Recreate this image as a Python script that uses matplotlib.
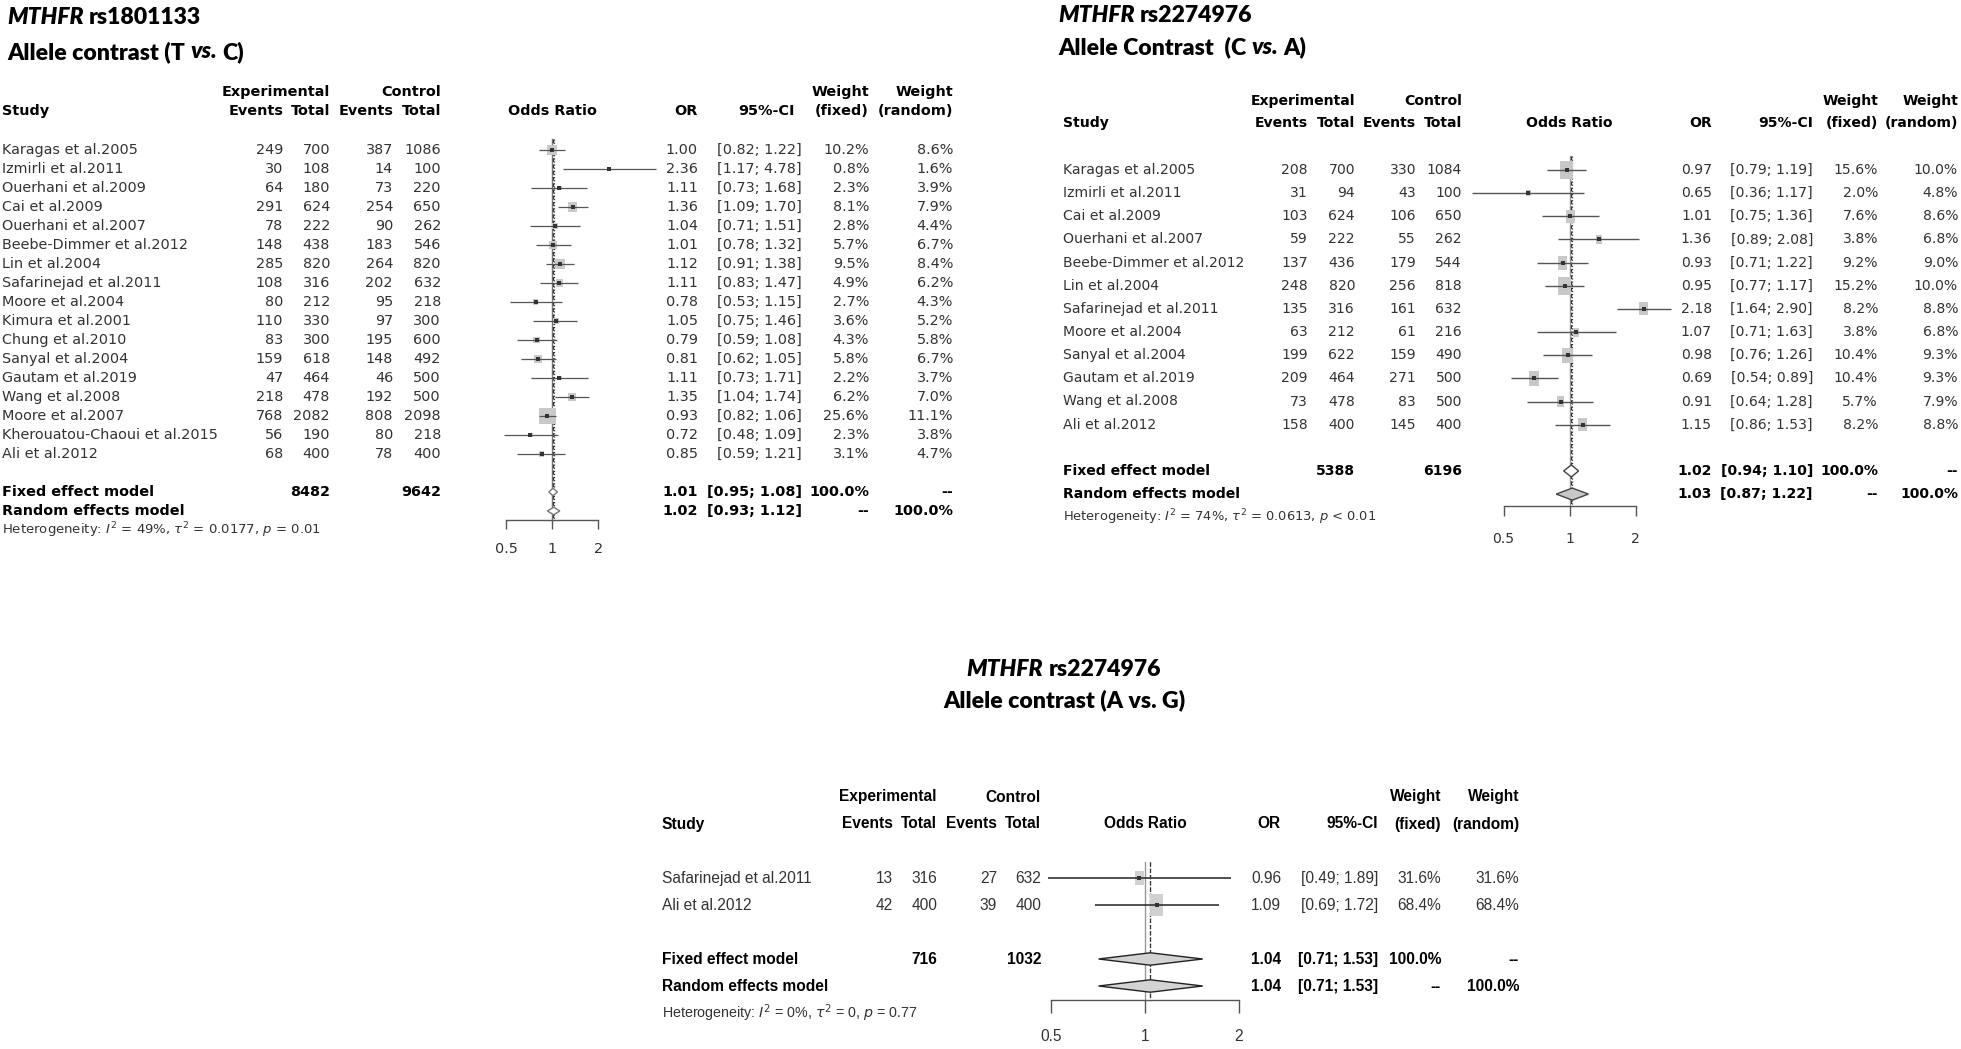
import numpy as np
import matplotlib
matplotlib.use('Agg')
import matplotlib.pyplot as plt
import matplotlib.transforms as mtransforms
from matplotlib import font_manager
from matplotlib.ticker import NullLocator

W, H = 1961, 1049

# ---- rs1801133, T vs C ----
studies1 = ["Karagas et al.2005", "Izmirli et al.2011", "Ouerhani et al.2009", "Cai et al.2009",
            "Ouerhani et al.2007", "Beebe-Dimmer et al.2012", "Lin et al.2004", "Safarinejad et al.2011",
            "Moore et al.2004", "Kimura et al.2001", "Chung et al.2010", "Sanyal et al.2004",
            "Gautam et al.2019", "Wang et al.2008", "Moore et al.2007", "Kherouatou-Chaoui et al.2015",
            "Ali et al.2012"]
exp_ev1 = [249, 30, 64, 291, 78, 148, 285, 108, 80, 110, 83, 159, 47, 218, 768, 56, 68]
exp_tot1 = [700, 108, 180, 624, 222, 438, 820, 316, 212, 330, 300, 618, 464, 478, 2082, 190, 400]
ctl_ev1 = [387, 14, 73, 254, 90, 183, 264, 202, 95, 97, 195, 148, 46, 192, 808, 80, 78]
ctl_tot1 = [1086, 100, 220, 650, 262, 546, 820, 632, 218, 300, 600, 492, 500, 500, 2098, 218, 400]
or1 = [1.00, 2.36, 1.11, 1.36, 1.04, 1.01, 1.12, 1.11, 0.78, 1.05, 0.79, 0.81, 1.11, 1.35, 0.93, 0.72, 0.85]
lo1 = [0.82, 1.17, 0.73, 1.09, 0.71, 0.78, 0.91, 0.83, 0.53, 0.75, 0.59, 0.62, 0.73, 1.04, 0.82, 0.48, 0.59]
hi1 = [1.22, 4.78, 1.68, 1.70, 1.51, 1.32, 1.38, 1.47, 1.15, 1.46, 1.08, 1.05, 1.71, 1.74, 1.06, 1.09, 1.21]
wf1 = [10.2, 0.8, 2.3, 8.1, 2.8, 5.7, 9.5, 4.9, 2.7, 3.6, 4.3, 5.8, 2.2, 6.2, 25.6, 2.3, 3.1]
wr1 = [8.6, 1.6, 3.9, 7.9, 4.4, 6.7, 8.4, 6.2, 4.3, 5.2, 5.8, 6.7, 3.7, 7.0, 11.1, 3.8, 4.7]
fixed1 = (1.01, 0.95, 1.08)
random1 = (1.02, 0.93, 1.12)
totals1 = (8482, 9642)
het1 = ("49%", "0.0177", "= 0.01")

# ---- rs2274976, C vs A ----
studies2 = ["Karagas et al.2005", "Izmirli et al.2011", "Cai et al.2009", "Ouerhani et al.2007",
            "Beebe-Dimmer et al.2012", "Lin et al.2004", "Safarinejad et al.2011", "Moore et al.2004",
            "Sanyal et al.2004", "Gautam et al.2019", "Wang et al.2008", "Ali et al.2012"]
exp_ev2 = [208, 31, 103, 59, 137, 248, 135, 63, 199, 209, 73, 158]
exp_tot2 = [700, 94, 624, 222, 436, 820, 316, 212, 622, 464, 478, 400]
ctl_ev2 = [330, 43, 106, 55, 179, 256, 161, 61, 159, 271, 83, 145]
ctl_tot2 = [1084, 100, 650, 262, 544, 818, 632, 216, 490, 500, 500, 400]
or2 = [0.97, 0.65, 1.01, 1.36, 0.93, 0.95, 2.18, 1.07, 0.98, 0.69, 0.91, 1.15]
lo2 = [0.79, 0.36, 0.75, 0.89, 0.71, 0.77, 1.64, 0.71, 0.76, 0.54, 0.64, 0.86]
hi2 = [1.19, 1.17, 1.36, 2.08, 1.22, 1.17, 2.90, 1.63, 1.26, 0.89, 1.28, 1.53]
wf2 = [15.6, 2.0, 7.6, 3.8, 9.2, 15.2, 8.2, 3.8, 10.4, 10.4, 5.7, 8.2]
wr2 = [10.0, 4.8, 8.6, 6.8, 9.0, 10.0, 8.8, 6.8, 9.3, 9.3, 7.9, 8.8]
fixed2 = (1.02, 0.94, 1.10)
random2 = (1.03, 0.87, 1.22)
totals2 = (5388, 6196)
het2 = ("74%", "0.0613", "< 0.01")

# ---- rs2274976, A vs G ----
studies3 = ["Safarinejad et al.2011", "Ali et al.2012"]
exp_ev3 = [13, 42]
exp_tot3 = [316, 400]
ctl_ev3 = [27, 39]
ctl_tot3 = [632, 400]
or3 = [0.96, 1.09]
lo3 = [0.49, 0.69]
hi3 = [1.89, 1.72]
wf3 = [31.6, 68.4]
wr3 = [31.6, 68.4]
fixed3 = (1.04, 0.71, 1.53)
random3 = (1.04, 0.71, 1.53)
totals3 = (716, 1032)
het3 = ("0%", "0", "= 0.77")

TEXT = '#333333'
TITLE_FONT = 'Lato'

have = {f.name for f in font_manager.fontManager.ttflist}
if 'Liberation Sans Narrow' in have:
    narrow, nsize, nhet = 'Liberation Sans Narrow', 13.6, 12.4
else:
    narrow, nsize, nhet = 'Liberation Sans', 11.2, 10.3

lay1 = dict(font='DejaVu Sans', size=10.4, het_size=9.5, study_x=2, e_ev=283, e_tot=330, c_ev=393,
            c_tot=441, or_x=698, ci_x=802, ci_head=795, wf_x=869, wr_x=953, head1=92, head2=111,
            row0=150, dy=19, one_x=552.3, doubling=46, ax_left=460, ax_right=680,
            sq=2.3, aspect=1.0, sq_col='#c9c9c9', ci_col='#555555', ci_lw=0.9,
            fe_fill='white', re_fill='white', dia_edge='#777777', dia_h=0.2,
            ref_col='#777777', tick_len=6.5, tick_pad=9)
lay2 = dict(font='DejaVu Sans', size=10.1, het_size=9.4, study_x=1063, e_ev=1308, e_tot=1355, c_ev=1416,
            c_tot=1462, or_x=1712, ci_x=1813, ci_head=1813, wf_x=1878, wr_x=1958, head1=101, head2=123,
            row0=170, dy=23.15, one_x=1569.5, doubling=66, ax_left=1460, ax_right=1690,
            sq=3.3, aspect=1.45, sq_col='#c8c8c8', ci_col='#555555', ci_lw=1.0,
            fe_fill='white', re_fill='#c8c8c8', dia_edge='#444444', dia_h=0.26,
            ref_col='#999999', tick_len=7.2, tick_pad=11.5)
lay3 = dict(font=narrow, size=nsize, het_size=nhet, study_x=662, e_ev=893, e_tot=937, c_ev=997,
            c_tot=1041, or_x=1281, ci_x=1378, ci_head=1378, wf_x=1441, wr_x=1519, head1=797, head2=824,
            row0=878, dy=27, one_x=1145, doubling=94, ax_left=1040, ax_right=1250,
            sq=1.91, aspect=1.7, sq_col='#d0d0d0', ci_col='#333333', ci_lw=1.2,
            fe_fill='#d3d3d3', re_fill='#d3d3d3', dia_edge='#222222', dia_h=0.23,
            ref_col='#999999', tick_len=9.4, tick_pad=12)

fig = plt.figure(figsize=(W / 100, H / 100), dpi=100)
px = mtransforms.Affine2D().scale(1 / W, -1 / H).translate(0, 1) + fig.transFigure
renderer = fig.canvas.get_renderer()


def txt(x, y, s, lay, bold=False, ha='right', trans=None, size=None):
    return fig.text(x, y, s, transform=trans or px, ha=ha, va='center', family=lay['font'],
                    fontsize=size or lay['size'], weight='bold' if bold else 'normal',
                    color='black' if bold else TEXT)


def rich(x, y, parts, size, ha='left'):
    # bold title pieces with mixed italic, placed one after another
    tmp = [fig.text(0, 0, s, fontsize=size, family=TITLE_FONT, weight='heavy') for s in ('a a', 'aa')]
    gap = tmp[0].get_window_extent(renderer).width - tmp[1].get_window_extent(renderer).width
    for t in tmp:
        t.remove()
    arts = [fig.text(0, y, s, transform=px, fontsize=size, family=TITLE_FONT, weight='heavy',
                     style=st, va='center', ha='left') for s, st in parts]
    widths = [a.get_window_extent(renderer).width for a in arts]
    total = sum(widths) + gap * (len(arts) - 1)
    start = x - total / 2 if ha == 'center' else x
    for a, w in zip(arts, widths):
        a.set_x(start)
        start += w + gap


def forest(studies, e_ev, e_tot, c_ev, c_tot, ors, lo, hi, wf, wr, fixed, rand, totals, het, lay):
    n = len(studies)
    r_fix, r_ran, r_het, r_axis = n + 1, n + 2, n + 3, n + 2.5
    top = lay['row0'] - 2 * lay['dy']
    bot = lay['row0'] + (n + 5) * lay['dy']
    left, right = lay['ax_left'], lay['ax_right']
    ax = fig.add_axes([left / W, 1 - bot / H, (right - left) / W, (bot - top) / H])
    ax.set_xscale('log', base=2)
    c, k = lay['one_x'], lay['doubling']
    ax.set_xlim(2 ** ((left - c) / k), 2 ** ((right - c) / k))
    ax.set_ylim((bot - lay['row0']) / lay['dy'], (top - lay['row0']) / lay['dy'])
    ax.patch.set_visible(False)

    rows = np.arange(n)
    # reference and summary lines
    ax.plot([1, 1], [-0.6, r_axis], color=lay['ref_col'], lw=1.0, zorder=1, clip_on=False)
    ax.plot([fixed[0]] * 2, [-0.6, r_axis], color='#333333', lw=0.9, ls=(0, (3, 2)), zorder=1)
    ax.plot([rand[0]] * 2, [-0.6, r_axis], color='#333333', lw=0.9, ls=(0, (1, 1.5)), zorder=1)

    a = 1.0 / lay['aspect']
    box = [(-a, -1), (a, -1), (a, 1), (-a, 1), (-a, -1)]
    ax.scatter(ors, rows, s=(lay['sq'] * np.sqrt(wf)) ** 2, marker=box, color=lay['sq_col'],
               linewidths=0, zorder=2, clip_on=False)
    ax.hlines(rows, lo, hi, color=lay['ci_col'], lw=lay['ci_lw'], zorder=3, clip_on=False)
    ax.scatter(ors, rows, s=5, marker='s', color='#333333', linewidths=0, zorder=4, clip_on=False)

    h = lay['dia_h']
    for (est, l, u), r, fill in [(fixed, r_fix, lay['fe_fill']), (rand, r_ran, lay['re_fill'])]:
        ax.fill([l, est, u, est], [r, r - h, r, r + h], facecolor=fill, edgecolor=lay['dia_edge'],
                lw=1.0, zorder=5, clip_on=False)

    for s in ('top', 'left', 'right'):
        ax.spines[s].set_visible(False)
    sp = ax.spines['bottom']
    sp.set_position(('data', r_axis))
    sp.set_bounds(0.5, 2)
    sp.set_color('#555555')
    sp.set_linewidth(1.0)
    ax.set_xticks([0.5, 1, 2])
    ax.set_xticklabels(['0.5', '1', '2'])
    ax.xaxis.set_minor_locator(NullLocator())
    ax.set_yticks([])
    ax.tick_params(axis='x', direction='out', length=lay['tick_len'], width=1.0, color='#555555',
                   pad=lay['tick_pad'], labelsize=lay['size'], labelcolor=TEXT)
    for t in ax.get_xticklabels():
        t.set_family(lay['font'])

    # headers
    b = dict(bold=True)
    txt(lay['study_x'], lay['head2'], 'Study', lay, ha='left', **b)
    txt(lay['e_tot'], lay['head1'], 'Experimental', lay, **b)
    txt(lay['e_ev'], lay['head2'], 'Events', lay, **b)
    txt(lay['e_tot'], lay['head2'], 'Total', lay, **b)
    txt(lay['c_tot'], lay['head1'], 'Control', lay, **b)
    txt(lay['c_ev'], lay['head2'], 'Events', lay, **b)
    txt(lay['c_tot'], lay['head2'], 'Total', lay, **b)
    txt(lay['one_x'], lay['head2'], 'Odds Ratio', lay, ha='center', **b)
    txt(lay['or_x'], lay['head2'], 'OR', lay, **b)
    txt(lay['ci_head'], lay['head2'], '95%-CI', lay, **b)
    txt(lay['wf_x'], lay['head1'], 'Weight', lay, **b)
    txt(lay['wf_x'], lay['head2'], '(fixed)', lay, **b)
    txt(lay['wr_x'], lay['head1'], 'Weight', lay, **b)
    txt(lay['wr_x'], lay['head2'], '(random)', lay, **b)

    rt = mtransforms.blended_transform_factory(px, ax.transData)
    for i in range(n):
        txt(lay['study_x'], i, studies[i], lay, ha='left', trans=rt)
        txt(lay['e_ev'], i, str(e_ev[i]), lay, trans=rt)
        txt(lay['e_tot'], i, str(e_tot[i]), lay, trans=rt)
        txt(lay['c_ev'], i, str(c_ev[i]), lay, trans=rt)
        txt(lay['c_tot'], i, str(c_tot[i]), lay, trans=rt)
        txt(lay['or_x'], i, f'{ors[i]:.2f}', lay, trans=rt)
        txt(lay['ci_x'], i, f'[{lo[i]:.2f}; {hi[i]:.2f}]', lay, trans=rt)
        txt(lay['wf_x'], i, f'{wf[i]:.1f}%', lay, trans=rt)
        txt(lay['wr_x'], i, f'{wr[i]:.1f}%', lay, trans=rt)

    txt(lay['study_x'], r_fix, 'Fixed effect model', lay, ha='left', trans=rt, **b)
    txt(lay['e_tot'], r_fix, str(totals[0]), lay, trans=rt, **b)
    txt(lay['c_tot'], r_fix, str(totals[1]), lay, trans=rt, **b)
    txt(lay['study_x'], r_ran, 'Random effects model', lay, ha='left', trans=rt, **b)
    for (est, l, u), r, wfs, wrs in [(fixed, r_fix, '100.0%', '--'), (rand, r_ran, '--', '100.0%')]:
        txt(lay['or_x'], r, f'{est:.2f}', lay, trans=rt, **b)
        txt(lay['ci_x'], r, f'[{l:.2f}; {u:.2f}]', lay, trans=rt, **b)
        txt(lay['wf_x'], r, wfs, lay, trans=rt, **b)
        txt(lay['wr_x'], r, wrs, lay, trans=rt, **b)
    txt(lay['study_x'], r_het,
        r'Heterogeneity: $I^2$ = ' + het[0] + r', $\tau^2$ = ' + het[1] + r', $p$ ' + het[2],
        lay, ha='left', trans=rt, size=lay['het_size'])
    return ax


forest(studies1, exp_ev1, exp_tot1, ctl_ev1, ctl_tot1, or1, lo1, hi1, wf1, wr1,
       fixed1, random1, totals1, het1, lay1)
forest(studies2, exp_ev2, exp_tot2, ctl_ev2, ctl_tot2, or2, lo2, hi2, wf2, wr2,
       fixed2, random2, totals2, het2, lay2)
forest(studies3, exp_ev3, exp_tot3, ctl_ev3, ctl_tot3, or3, lo3, hi3, wf3, wr3,
       fixed3, random3, totals3, het3, lay3)

rich(7, 18, [('MTHFR', 'italic'), ('rs1801133', 'normal')], 16.6)
rich(7, 52, [('Allele contrast (T', 'normal'), ('vs.', 'italic'), ('C)', 'normal')], 16.6)
rich(1058, 15, [('MTHFR', 'italic'), ('rs2274976', 'normal')], 16.6)
rich(1058, 47, [('Allele Contrast  (C', 'normal'), ('vs.', 'italic'), ('A)', 'normal')], 16.6)
rich(1064, 669, [('MTHFR', 'italic'), ('rs2274976', 'normal')], 16.6, ha='center')
rich(1064, 700, [('Allele contrast (A vs. G)', 'normal')], 16.6, ha='center')

fig.savefig('out.png', dpi=100)
plt.close(fig)
